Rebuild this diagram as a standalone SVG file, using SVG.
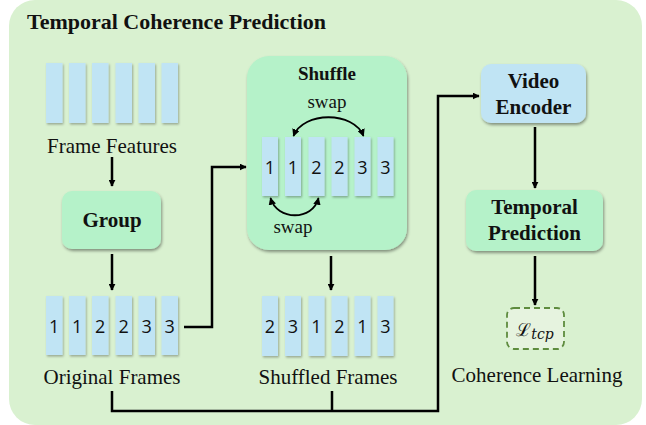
<svg xmlns="http://www.w3.org/2000/svg" width="646" height="425" viewBox="0 0 646 425">
  <defs>
    <filter id="shadow" x="-20%" y="-20%" width="150%" height="150%">
      <feDropShadow dx="1" dy="2" stdDeviation="1.4" flood-color="#000" flood-opacity="0.4"/>
    </filter>
    <filter id="barShadow" x="-30%" y="-10%" width="170%" height="130%">
      <feDropShadow dx="1" dy="1.5" stdDeviation="1" flood-color="#000" flood-opacity="0.3"/>
    </filter>
    <marker id="arrow" viewBox="0 0 10 10" refX="9" refY="5" markerWidth="7" markerHeight="7" markerUnits="userSpaceOnUse" orient="auto">
      <path d="M0,0 L10,5 L0,10 Z" fill="#000"/>
    </marker>
    <marker id="arrowS" viewBox="0 0 10 10" refX="9" refY="5" markerWidth="7.5" markerHeight="7.5" markerUnits="userSpaceOnUse" orient="auto-start-reverse">
      <path d="M0,0 L10,5 L0,10 Z" fill="#000"/>
    </marker>
  </defs>
  <style>
    .panel { fill: #d9f1d0; }
    .bar { fill: #c0e4f4; filter: url(#barShadow); }
    .green { fill: #b5f2c9; filter: url(#shadow); }
    .blue { fill: #c0e4f4; filter: url(#shadow); }
    .label { font-family: 'Liberation Serif', 'Times New Roman', serif; font-size: 21px; fill: #111; text-anchor: middle; }
    .bold { font-family: 'Liberation Serif', 'Times New Roman', serif; font-size: 21px; font-weight: bold; fill: #111; text-anchor: middle; }
    .small { font-size: 19px; }
    .digit { font-family: 'Open Sans', 'Noto Sans', sans-serif; font-size: 18px; fill: #111; text-anchor: middle; }
    .wire { fill: none; stroke: #000; stroke-width: 2.5; }
    .swap { fill: none; stroke: #000; stroke-width: 1.8; }
  </style>

  <!-- background panel -->
  <rect class="panel" x="9" y="0" width="633" height="425" rx="26"/>
  <text x="27" y="29" font-family="Liberation Serif, Times New Roman, serif" font-size="22" font-weight="bold" fill="#111">Temporal Coherence Prediction</text>

  <!-- connectors -->
  <g id="connectors">
    <path class="wire" d="M112,157 V186" marker-end="url(#arrow)"/>
    <path class="wire" d="M112,254 V290" marker-end="url(#arrow)"/>
    <path class="wire" d="M184,327 H212 V167 H246" marker-end="url(#arrow)"/>
    <path class="wire" d="M331,256 V290" marker-end="url(#arrow)"/>
    <path class="wire" d="M112,391 V411 H438 V96 H479" marker-end="url(#arrow)"/>
    <path class="wire" d="M332,391 V411"/>
    <path class="wire" d="M535,127 V188" marker-end="url(#arrow)"/>
    <path class="wire" d="M535,256 V305" marker-end="url(#arrow)"/>
  </g>

  <!-- frame features -->
  <g id="frame-features">
    <rect class="bar" x="46" y="63" width="16.5" height="60"/>
    <rect class="bar" x="69" y="63" width="16.5" height="60"/>
    <rect class="bar" x="92" y="63" width="16.5" height="60"/>
    <rect class="bar" x="115.5" y="63" width="16.5" height="60"/>
    <rect class="bar" x="138.5" y="63" width="16.5" height="60"/>
    <rect class="bar" x="161.5" y="63" width="16.5" height="60"/>
    <text class="label" x="112" y="153">Frame Features</text>
  </g>

  <!-- group -->
  <g id="group">
    <rect class="green" x="62" y="191" width="99" height="58" rx="10"/>
    <text class="bold" x="112" y="227">Group</text>
  </g>

  <!-- original frames -->
  <g id="original-frames">
    <rect class="bar" x="46" y="296" width="16.5" height="59"/>
    <rect class="bar" x="69" y="296" width="16.5" height="59"/>
    <rect class="bar" x="92" y="296" width="16.5" height="59"/>
    <rect class="bar" x="115.5" y="296" width="16.5" height="59"/>
    <rect class="bar" x="138.5" y="296" width="16.5" height="59"/>
    <rect class="bar" x="161.5" y="296" width="16.5" height="59"/>
    <text class="digit" x="54.2" y="333">1</text>
    <text class="digit" x="77.2" y="333">1</text>
    <text class="digit" x="100.2" y="333">2</text>
    <text class="digit" x="123.7" y="333">2</text>
    <text class="digit" x="146.7" y="333">3</text>
    <text class="digit" x="169.7" y="333">3</text>
    <text class="label" x="112" y="384">Original Frames</text>
  </g>

  <!-- shuffle -->
  <g id="shuffle">
    <rect class="green" x="247" y="56" width="160" height="194" rx="22"/>
    <text class="bold small" x="327" y="80">Shuffle</text>
    <text class="label small" x="327" y="108">swap</text>
    <rect class="bar" x="262" y="137" width="16" height="59"/>
    <rect class="bar" x="285" y="137" width="16" height="59"/>
    <rect class="bar" x="308.5" y="137" width="16" height="59"/>
    <rect class="bar" x="331.5" y="137" width="16" height="59"/>
    <rect class="bar" x="354.5" y="137" width="16" height="59"/>
    <rect class="bar" x="377.5" y="137" width="16" height="59"/>
    <text class="digit" x="270" y="174">1</text>
    <text class="digit" x="293" y="174">1</text>
    <text class="digit" x="316.5" y="174">2</text>
    <text class="digit" x="339.5" y="174">2</text>
    <text class="digit" x="362.5" y="174">3</text>
    <text class="digit" x="385.5" y="174">3</text>
    <path class="swap" d="M293.5,136 C303,111 354,111 363.5,136" marker-start="url(#arrowS)" marker-end="url(#arrowS)"/>
    <path class="swap" d="M270.5,198 C277,221 313,221 318.5,198" marker-start="url(#arrowS)" marker-end="url(#arrowS)"/>
    <text class="label small" x="293" y="233">swap</text>
  </g>

  <!-- shuffled frames -->
  <g id="shuffled-frames">
    <rect class="bar" x="262" y="296" width="16" height="60"/>
    <rect class="bar" x="285" y="296" width="16" height="60"/>
    <rect class="bar" x="308.5" y="296" width="16" height="60"/>
    <rect class="bar" x="331.5" y="296" width="16" height="60"/>
    <rect class="bar" x="354.5" y="296" width="16" height="60"/>
    <rect class="bar" x="377.5" y="296" width="16" height="60"/>
    <text class="digit" x="270" y="333">2</text>
    <text class="digit" x="293" y="333">3</text>
    <text class="digit" x="316.5" y="333">1</text>
    <text class="digit" x="339.5" y="333">2</text>
    <text class="digit" x="362.5" y="333">1</text>
    <text class="digit" x="385.5" y="333">3</text>
    <text class="label" x="328" y="384">Shuffled Frames</text>
  </g>

  <!-- video encoder -->
  <g id="video-encoder">
    <rect class="blue" x="481" y="64" width="105" height="59" rx="10"/>
    <text class="bold" x="533.5" y="88">Video</text>
    <text class="bold" x="533.5" y="114">Encoder</text>
  </g>

  <!-- temporal prediction -->
  <g id="temporal-prediction">
    <rect class="green" x="466" y="190" width="137" height="61" rx="10"/>
    <text class="bold" x="534.5" y="214">Temporal</text>
    <text class="bold" x="534.5" y="240">Prediction</text>
  </g>

  <!-- coherence loss -->
  <g id="coherence-loss">
    <rect x="507" y="308" width="57" height="41" rx="7" fill="#e6f3df" stroke="#5e8c3e" stroke-width="1.8" stroke-dasharray="6,4"/>
    <text x="535" y="336" font-family="DejaVu Serif, Liberation Serif, serif" font-size="18" fill="#111" text-anchor="middle">ℒ<tspan font-style="italic" font-size="14" dy="3">tcp</tspan></text>
    <text class="label" x="537" y="382">Coherence Learning</text>
  </g>
</svg>
